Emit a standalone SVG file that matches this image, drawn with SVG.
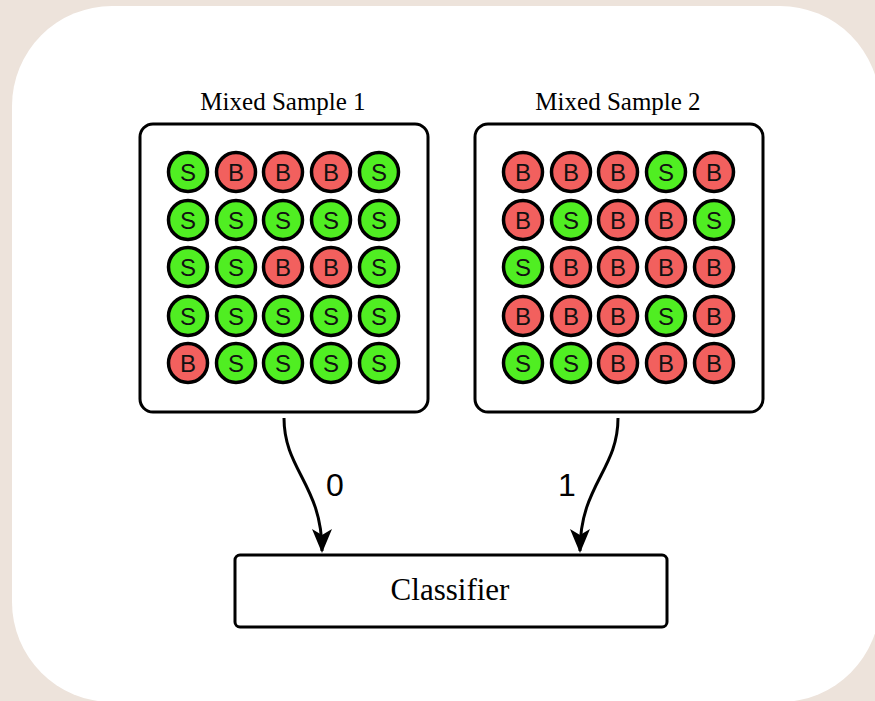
<svg xmlns="http://www.w3.org/2000/svg" width="875" height="701" viewBox="0 0 875 701">
<defs>
<style>
.box{fill:#fff;stroke:#000;stroke-width:3}
.s circle{fill:#50EE22;stroke:#000;stroke-width:3.5}
.b circle{fill:#F2605E;stroke:#000;stroke-width:3.5}
.lt{font-family:"Liberation Sans",Arial,sans-serif;font-size:24px;fill:#111;text-anchor:middle}
.ti{font-family:"Liberation Serif","Times New Roman",serif;font-size:25px;fill:#000;text-anchor:middle}
.ar{fill:none;stroke:#000;stroke-width:3}
.lab{font-family:"Liberation Sans",Arial,sans-serif;font-size:32px;fill:#000;text-anchor:middle}
</style>
<marker id="ah" viewBox="0 0 24 20" refX="22" refY="10" markerWidth="24" markerHeight="20" markerUnits="userSpaceOnUse" orient="auto">
<path d="M0,0 L24,10 L0,20 L6,10 Z" fill="#000"/>
</marker>
<g id="cS" class="s"><circle r="19.5"/><text class="lt" y="8.5" font-size="24">S</text></g>
<g id="cB" class="b"><circle r="19.5"/><text class="lt" y="8.5" font-size="24">B</text></g>
</defs>
<rect width="875" height="701" fill="#EDE3DB"/>
<rect x="12" y="6" width="868" height="696" rx="100" ry="100" fill="#fff"/>

<g id="sample1">
<text class="ti" x="283" y="110">Mixed Sample 1</text>
<rect class="box" x="140" y="124" width="288" height="288" rx="13"/>
<use href="#cS" x="188" y="172"/><use href="#cB" x="236" y="172"/><use href="#cB" x="283" y="172"/><use href="#cB" x="331" y="172"/><use href="#cS" x="379" y="172"/>
<use href="#cS" x="188" y="220"/><use href="#cS" x="236" y="220"/><use href="#cS" x="283" y="220"/><use href="#cS" x="331" y="220"/><use href="#cS" x="379" y="220"/>
<use href="#cS" x="188" y="267"/><use href="#cS" x="236" y="267"/><use href="#cB" x="283" y="267"/><use href="#cB" x="331" y="267"/><use href="#cS" x="379" y="267"/>
<use href="#cS" x="188" y="316"/><use href="#cS" x="236" y="316"/><use href="#cS" x="283" y="316"/><use href="#cS" x="331" y="316"/><use href="#cS" x="379" y="316"/>
<use href="#cB" x="188" y="363"/><use href="#cS" x="236" y="363"/><use href="#cS" x="283" y="363"/><use href="#cS" x="331" y="363"/><use href="#cS" x="379" y="363"/>
</g>

<g id="sample2">
<text class="ti" x="618" y="110">Mixed Sample 2</text>
<rect class="box" x="475" y="124" width="288" height="288" rx="13"/>
<use href="#cB" x="523" y="172"/><use href="#cB" x="571" y="172"/><use href="#cB" x="618" y="172"/><use href="#cS" x="666" y="172"/><use href="#cB" x="714" y="172"/>
<use href="#cB" x="523" y="220"/><use href="#cS" x="571" y="220"/><use href="#cB" x="618" y="220"/><use href="#cB" x="666" y="220"/><use href="#cS" x="714" y="220"/>
<use href="#cS" x="523" y="267"/><use href="#cB" x="571" y="267"/><use href="#cB" x="618" y="267"/><use href="#cB" x="666" y="267"/><use href="#cB" x="714" y="267"/>
<use href="#cB" x="523" y="316"/><use href="#cB" x="571" y="316"/><use href="#cB" x="618" y="316"/><use href="#cS" x="666" y="316"/><use href="#cB" x="714" y="316"/>
<use href="#cS" x="523" y="363"/><use href="#cS" x="571" y="363"/><use href="#cB" x="618" y="363"/><use href="#cB" x="666" y="363"/><use href="#cB" x="714" y="363"/>
</g>

<g id="classifier">
<rect class="box" x="235" y="555" width="432" height="72" rx="5"/>
<text class="ti" x="450" y="600" style="font-size:31px">Classifier</text>
</g>

<g id="connectors">
<path class="ar" d="M284,418 C284,470 322,485 322,551" marker-end="url(#ah)"/>
<path class="ar" d="M618,418 C618,470 580,485 580,551" marker-end="url(#ah)"/>
<text class="lab" x="335" y="496">0</text>
<text class="lab" x="567" y="496">1</text>
</g>
</svg>
